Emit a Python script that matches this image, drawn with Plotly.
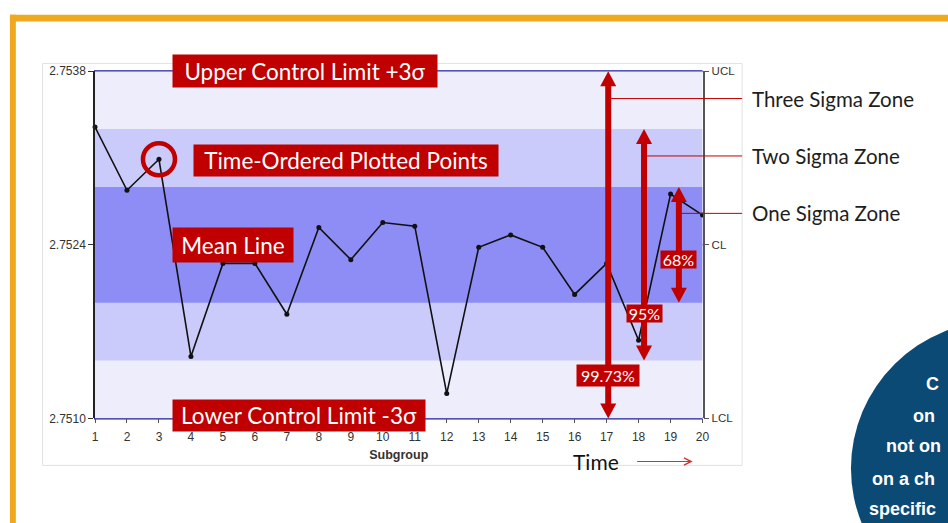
import plotly.graph_objects as go

# ---------------- data ----------------
subgroups = list(range(1, 21))
values = [2.75335, 2.75284, 2.75309, 2.75150, 2.75225, 2.75225, 2.75184, 2.75254, 2.75228, 2.75258,
          2.75255, 2.75120, 2.75238, 2.75248, 2.75238, 2.75200, 2.75225, 2.75163, 2.75281, 2.75264]
UCL = 2.7538
CL = 2.7524
LCL = 2.7510
limit_values = [LCL, CL, UCL]
limit_names = ["LCL", "CL", "UCL"]
limit_ticktext = ["2.7510", "2.7524", "2.7538"]
sigma_levels = [1, 2, 3]
zone_names = ["One Sigma Zone", "Two Sigma Zone", "Three Sigma Zone"]
zone_pcts = ["68%", "95%", "99.73%"]
callout_lines = ["C", "on", "not on", "on a ch", "specific"]

# ---------------- layout helpers ----------------
W, H = 948, 523
RED = "#C00000"
NAVY = "#1c1ca0"
ORANGE = "#F0A91E"
XD = [93 / W, 707 / W]
YD = [1 - 422.7 / H, 1 - 66 / H]
sigma = (UCL - CL) / 3
plot_h_px = (YD[1] - YD[0]) * H
data_per_px = (UCL - LCL) / plot_h_px


def px(x):
    return x / W


def py(y):
    return 1 - y / H


def xdata_to_paper(x):
    return XD[0] + (x - 1) / 19 * (XD[1] - XD[0])


def ypx_to_data(y):
    return CL + (244.3 - y) * data_per_px


fig = go.Figure()

fig.add_trace(go.Scatter(
    x=subgroups, y=values, mode="lines+markers",
    line=dict(color="#111111", width=1.6),
    marker=dict(color="#111111", size=5),
    hoverinfo="skip", showlegend=False, cliponaxis=False,
))
fig.add_trace(go.Scatter(
    x=subgroups, y=values, mode="markers", yaxis="y2",
    marker=dict(opacity=0), hoverinfo="skip", showlegend=False,
))

shapes = []
# orange frame
shapes.append(dict(type="rect", xref="paper", yref="paper", x0=px(7), x1=px(960), y0=py(15), y1=py(8),
                   fillcolor=ORANGE, line=dict(width=0), layer="below"))
shapes.append(dict(type="rect", xref="paper", yref="paper", x0=px(7), x1=px(13), y0=py(540), y1=py(8),
                   fillcolor=ORANGE, line=dict(width=0), layer="below"))
# chart image border
shapes.append(dict(type="rect", xref="paper", yref="paper", x0=px(40), x1=px(747), y0=py(471), y1=py(58),
                   fillcolor="white", line=dict(color="#e2e2e2", width=1), layer="below"))
# sigma zones
zone_colors = {3: "#ededfb", 2: "#cacafb", 1: "#8d8df5"}
for k in [3, 2, 1]:
    shapes.append(dict(type="rect", xref="x", yref="y", x0=1, x1=20, y0=CL - k * sigma, y1=CL + k * sigma,
                       fillcolor=zone_colors[k], line=dict(width=0), layer="below"))
# control lines (limits sit on the plot-area edges)
shapes.append(dict(type="line", xref="paper", yref="paper", x0=XD[0] - 1 / W, x1=XD[1], y0=YD[1], y1=YD[1],
                   line=dict(color=NAVY, width=2), layer="below"))
shapes.append(dict(type="line", xref="paper", yref="paper", x0=XD[0] - 1 / W, x1=XD[1], y0=YD[0], y1=YD[0],
                   line=dict(color=NAVY, width=2), layer="below"))
shapes.append(dict(type="line", xref="paper", yref="y", x0=XD[0], x1=XD[1], y0=CL, y1=CL,
                   line=dict(color=NAVY, width=2), layer="below"))

# callout circle (bottom right)
shapes.append(dict(type="circle", xref="paper", yref="paper", x0=px(857), x1=px(1161), y0=py(626), y1=py(322),
                   fillcolor="#0b4a75", line=dict(width=0)))

# highlight ring around point 3
shapes.append(dict(type="circle", xref="x", yref="y", xsizemode="pixel", ysizemode="pixel",
                   xanchor=subgroups[2], yanchor=values[2], x0=-16, x1=16, y0=-16, y1=16,
                   line=dict(color=RED, width=4.5)))

# sigma arrows
arrow_x = {1: 19.26, 2: 18.17, 3: 17.05}
connector_y = {1: 212, 2: 153, 3: 94}
for k in sigma_levels:
    xa = arrow_x[k]
    top = CL + k * sigma
    bot = CL - k * sigma
    shapes.append(dict(type="line", xref="x", yref="y", x0=xa, x1=xa,
                       y0=bot + 10 * data_per_px, y1=top - 10 * data_per_px,
                       line=dict(color=RED, width=6)))
    shapes.append(dict(type="path", xref="x", yref="y", xsizemode="pixel", ysizemode="pixel",
                       xanchor=xa, yanchor=top, path="M0,0 L-8,-15 L8,-15 Z",
                       fillcolor=RED, line=dict(width=0)))
    shapes.append(dict(type="path", xref="x", yref="y", xsizemode="pixel", ysizemode="pixel",
                       xanchor=xa, yanchor=bot, path="M0,0 L-8,15 L8,15 Z",
                       fillcolor=RED, line=dict(width=0)))
    yc = ypx_to_data(connector_y[k])
    shapes.append(dict(type="line", xref="paper", yref="y", x0=xdata_to_paper(xa) + 3 / W, x1=px(747),
                       y0=yc, y1=yc, line=dict(color=RED, width=1)))

annotations = []


def red_box(text, cx, cy, w, h, size):
    annotations.append(dict(text=text, xref="paper", yref="paper", x=px(cx), y=py(cy),
                            xanchor="center", yanchor="middle", showarrow=False,
                            width=w, height=h, bgcolor=RED, borderpad=0, align="center",
                            font=dict(family="Lato", size=size, color="white")))


red_box("Upper Control Limit +3σ", 305, 66, 264, 32, 22.5)
red_box("Time-Ordered Plotted Points", 347, 157.5, 304, 31, 22.5)
red_box("Mean Line", 232, 245, 120, 34, 22.5)
red_box("Lower Control Limit -3σ", 299, 419.5, 252, 31, 22.5)

pct_y = {1: 259.5, 2: 314.5, 3: 378.5}
pct_w = {1: 35, 2: 35, 3: 62}
for k, p in zip(sigma_levels, zone_pcts):
    annotations.append(dict(text=p, xref="x", yref="paper", x=arrow_x[k], y=py(pct_y[k]),
                            xanchor="center", yanchor="middle", showarrow=False,
                            width=pct_w[k], height=17 if k < 3 else 21, bgcolor=RED, borderpad=0,
                            font=dict(family="Lato", size=16, color="white")))

for k, name in zip(sigma_levels, zone_names):
    annotations.append(dict(text=name, xref="paper", yref="y", x=px(755), y=ypx_to_data(connector_y[k]),
                            xanchor="left", yanchor="middle", showarrow=False,
                            font=dict(family="Lato", size=20.5, color="#1e1e1e")))

# Time label with arrow
annotations.append(dict(text="Time", xref="paper", yref="paper", x=px(599), y=py(467),
                        xanchor="center", yanchor="middle", showarrow=False,
                        font=dict(family="Lato", size=21, color="#111111")))
annotations.append(dict(text="", xref="paper", yref="paper", x=px(697), y=py(467),
                        ax=-57, ay=0, showarrow=True, arrowhead=5, arrowsize=1.4,
                        arrowwidth=1, arrowcolor="#d03030"))

# callout text (only the part visible inside the page)
callout_pos = [(931, 387), (918, 420), (890, 451), (876, 485), (873, 516)]
for t, (lx, ly) in zip(callout_lines, callout_pos):
    annotations.append(dict(text="<b>" + t + "</b>", xref="paper", yref="paper", x=px(lx), y=py(ly),
                            xanchor="left", yanchor="middle", showarrow=False,
                            font=dict(family="Arial", size=18, color="white")))

fig.update_layout(
    width=W, height=H, margin=dict(l=0, r=0, t=0, b=0),
    paper_bgcolor="white", plot_bgcolor="rgba(0,0,0,0)",
    showlegend=False,
    shapes=shapes, annotations=annotations,
    xaxis=dict(domain=XD, range=[1, 20], tickvals=subgroups, ticks="outside", ticklen=4,
               tickcolor="#555555", showgrid=False, zeroline=False, showline=False,
               ticklabelstandoff=3,
               tickfont=dict(family="Arial", size=12, color="#333333"),
               title=dict(text="<b>Subgroup</b>", standoff=7,
                          font=dict(family="Arial", size=12.5, color="#333333"))),
    yaxis=dict(domain=YD, range=[LCL, UCL], tickvals=limit_values, ticktext=limit_ticktext,
               ticks="outside", ticklen=5, tickcolor="#333333", showgrid=False, zeroline=False,
               showline=True, linecolor="#222222", linewidth=1.5,
               tickfont=dict(family="Arial", size=12, color="#333333")),
    yaxis2=dict(overlaying="y", side="right", range=[LCL, UCL], tickvals=limit_values,
                ticktext=limit_names, ticks="outside", ticklen=5, tickcolor="#555555",
                showgrid=False, zeroline=False, showline=True, linecolor="#555555", linewidth=1.5,
                tickfont=dict(family="Arial", size=11.5, color="#333333")),
)

fig.write_html("out.html", config={"displayModeBar": False},
               post_script="document.body.style.margin='0';")
